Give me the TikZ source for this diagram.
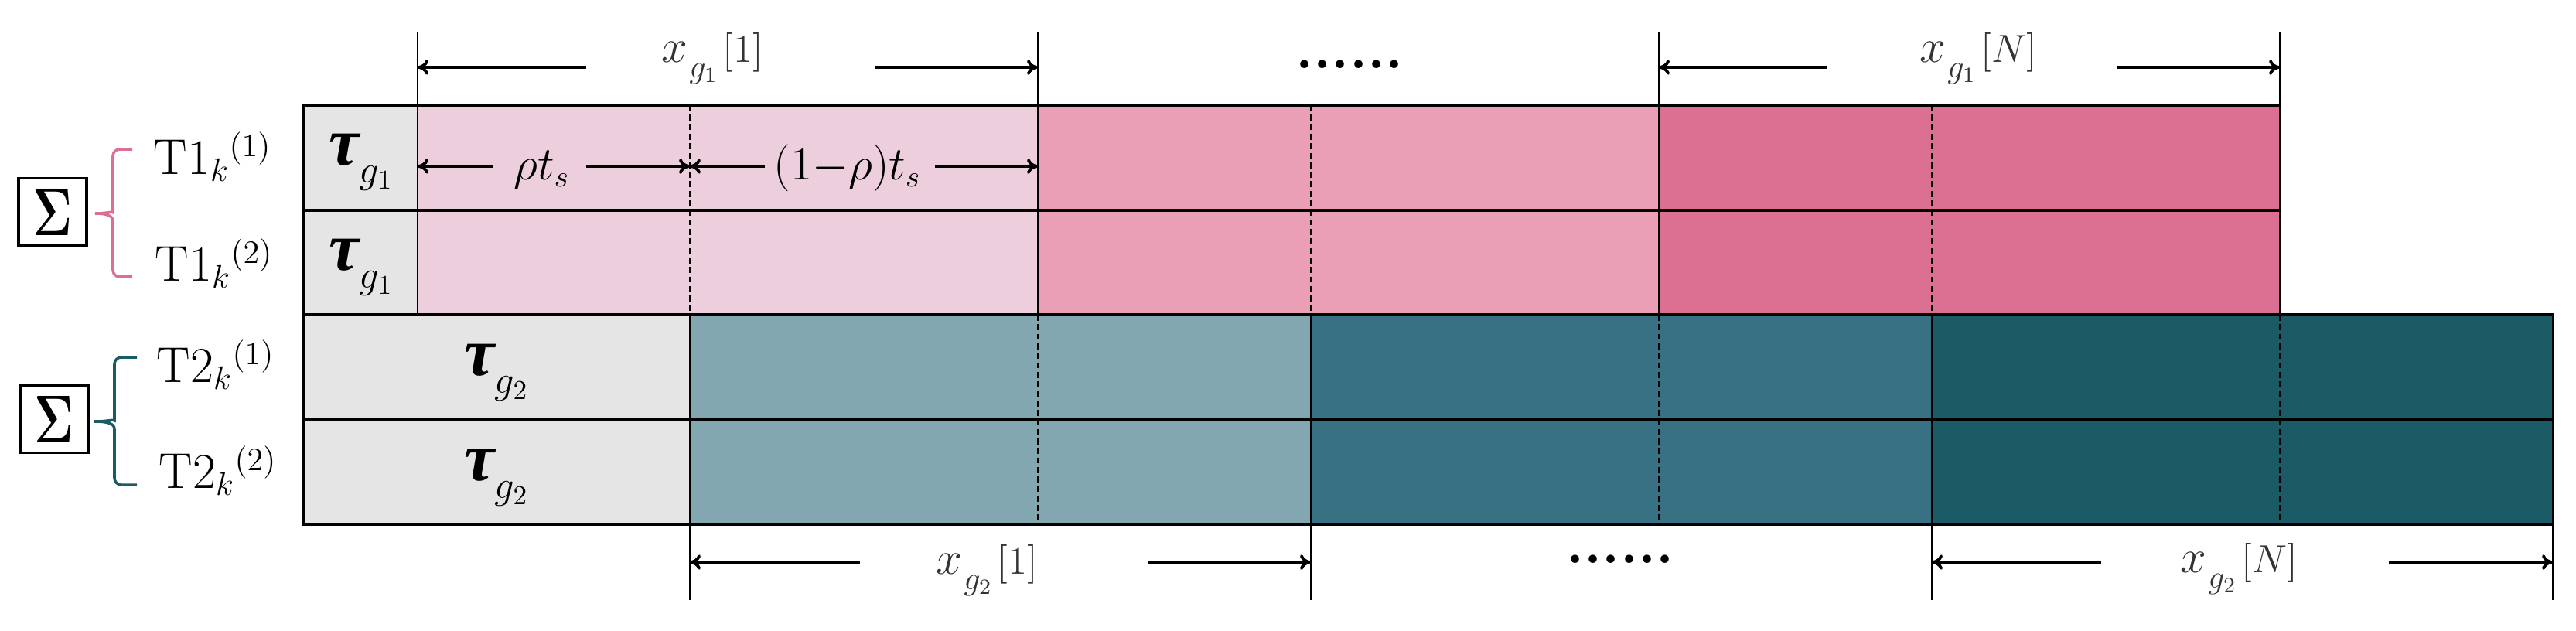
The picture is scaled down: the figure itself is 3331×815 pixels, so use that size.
\documentclass[tikz,border=0pt]{standalone}
\usepackage{amsmath}
\usepackage{fontspec}
\newfontfamily\grk{Liberation Serif}
\usetikzlibrary{arrows.meta}
\definecolor{graycell}{HTML}{E5E5E5}
\definecolor{pinkA}{HTML}{ECCEDC}
\definecolor{pinkB}{HTML}{EA9FB7}
\definecolor{pinkC}{HTML}{DC7092}
\definecolor{tealA}{HTML}{82A7B1}
\definecolor{tealB}{HTML}{387183}
\definecolor{tealC}{HTML}{1B5B66}
\definecolor{labgray}{HTML}{333333}
\newcommand{\fsz}[1]{\fontsize{#1}{#1}\selectfont}
\newcommand{\taulab}[1]{{\fsz{25}\grk\bfseries\itshape τ}\kern0pt\raisebox{-6.8pt}{\fsz{14.5}$g_{#1}$}}
\newcommand{\xlab}[2]{{\fsz{18}$x$}\kern0.5pt\raisebox{-5.7pt}{\fsz{12}$g_{#1}$}\kern2pt{\fsz{15}$[#2]$}}
\newcommand{\tlab}[2]{{\fsz{18.5}$\mathrm{T#1}_{k}{}^{(#2)}$}}
\begin{document}
\begin{tikzpicture}[x=0.01cm,y=-0.01cm,
  border/.style={line width=1pt,line cap=rect},
  sepline/.style={line width=0.8pt},
  cutline/.style={line width=0.45pt,dash pattern=on 2.2pt off 1.3pt},
  tickline/.style={line width=0.6pt},
  dimarrow/.style={line width=1.1pt,-{To[length=4pt,width=5.6pt]}},
  lab/.style={inner sep=0pt,anchor=base west},
  taunode/.style={inner sep=0pt,anchor=base},
  sumbox/.style={draw,line width=1pt,minimum width=0.88cm,minimum height=0.87cm,inner sep=0pt},
  bracepink/.style={draw=pinkC,line width=1pt},
  braceteal/.style={draw=tealC,line width=1pt},
  dotsnode/.style={inner sep=0pt,font=\fsz{21}\bfseries},
]
\useasboundingbox (0,0) rectangle (3331,815);

% ---- fills
\fill[graycell] (393,136) rectangle (540,407);
\fill[pinkA] (540,136) rectangle (1342,407);
\fill[pinkB] (1342,136) rectangle (2145,407);
\fill[pinkC] (2145,136) rectangle (2948,407);
\fill[graycell] (393,407) rectangle (892,678);
\fill[tealA] (892,407) rectangle (1695,678);
\fill[tealB] (1695,407) rectangle (2498,678);
\fill[tealC] (2498,407) rectangle (3301,678);

% ---- dashed split lines
\foreach \x in {892,1695,2498} \draw[cutline] (\x,136) -- (\x,407);
\foreach \x in {1342,2145,2948} \draw[cutline] (\x,407) -- (\x,678);

% ---- vertical separators
\foreach \x in {540,1342,2145,2948} \draw[sepline] (\x,136) -- (\x,407);
\foreach \x in {892,1695,2498,3301} \draw[sepline] (\x,407) -- (\x,678);

% ---- horizontal borders
\draw[border] (393,136) -- (2948,136);
\draw[border] (393,272) -- (2948,272);
\draw[border] (393,407) -- (3301,407);
\draw[border] (393,542) -- (3301,542);
\draw[border] (393,678) -- (3301,678);
\draw[border] (393,136) -- (393,678);

% ---- tau labels
\node[taunode] (tau1) at (467,213) {\taulab{1}};
\node[taunode] (tau2) at (467,349) {\taulab{1}};
\node[taunode] (tau3) at (642,485) {\taulab{2}};
\node[taunode] (tau4) at (642,621) {\taulab{2}};

% ---- row labels
\node[lab] (T11) at (198,225) {\tlab{1}{1}};
\node[lab] (T12) at (200,363) {\tlab{1}{2}};
\node[lab] (T21) at (202,494) {\tlab{2}{1}};
\node[lab] (T22) at (205,631) {\tlab{2}{2}};

% ---- sum boxes and braces
\node[sumbox] (sum1) at (68,274) {\fsz{27}\scalebox{0.72}[1]{$\boldsymbol{\Sigma}$}};
\node[sumbox] (sum2) at (70,542) {\fsz{27}\scalebox{0.72}[1]{$\boldsymbol{\Sigma}$}};
\draw[bracepink] (171,193) [rounded corners=2.5pt] -- (146,193) -- (146,266) [sharp corners]
  .. controls (146,273) and (138,276) .. (123,276)
  .. controls (138,276) and (146,279) .. (146,286) [rounded corners=2.5pt] -- (146,358) -- (171,358);
\draw[braceteal] (177,462) [rounded corners=2.5pt] -- (148,462) -- (148,535) [sharp corners]
  .. controls (148,542) and (140,545) .. (122,545)
  .. controls (140,545) and (148,548) .. (148,555) [rounded corners=2.5pt] -- (148,627) -- (177,627);

% ---- top dimension ticks
\foreach \x/\n in {540/a,1342/b,2145/c,2948/d} {
  \coordinate (tt\n) at (\x,42);
  \coordinate (tb\n) at (\x,136);
  \draw[tickline] (tt\n) -- (tb\n);
}
% ---- bottom dimension ticks
\foreach \x/\n in {892/a,1695/b,2498/c,3301/d} {
  \coordinate (bt\n) at (\x,678);
  \coordinate (bb\n) at (\x,776);
  \draw[tickline] (bt\n) -- (bb\n);
}

% ---- top dimension labels and arrows
\node[lab,text=labgray] (xg11) at (855,80) {\xlab{1}{1}};
\node[lab,text=labgray] (xg1N) at (2482,80) {\xlab{1}{N}};
\node[dotsnode] (dotsT) at (1745,83) {......};
\coordinate (ua1) at (758,87);
\coordinate (ua2) at (1132,87);
\coordinate (ua3) at (2363,87);
\coordinate (ua4) at (2737,87);
\draw[dimarrow] (ua1) -- (ua1 -| tta);
\draw[dimarrow] (ua2) -- (ua2 -| ttb);
\draw[dimarrow] (ua3) -- (ua3 -| ttc);
\draw[dimarrow] (ua4) -- (ua4 -| ttd);

% ---- bottom dimension labels and arrows
\node[lab,text=labgray] (xg21) at (1210,742) {\xlab{2}{1}};
\node[lab,text=labgray] (xg2N) at (2819,740) {\xlab{2}{N}};
\node[dotsnode] (dotsB) at (2095,723) {......};
\coordinate (la1) at (1112,727);
\coordinate (la2) at (1484,727);
\coordinate (la3) at (2717,727);
\coordinate (la4) at (3089,727);
\draw[dimarrow] (la1) -- (la1 -| bba);
\draw[dimarrow] (la2) -- (la2 -| bbb);
\draw[dimarrow] (la3) -- (la3 -| bbc);
\draw[dimarrow] (la4) -- (la4 -| bbd);

% ---- rho t_s arrows
\node[lab] (rho1) at (664,232) {\fsz{16}$\rho t_{s}$};
\node[lab] (rho2) at (1000,232) {\fsz{16}$(1{-}\rho)t_{s}$};
\coordinate (ra1) at (638,215);
\coordinate (ra2) at (758,215);
\coordinate (ra3) at (989,215);
\coordinate (ra4) at (1209,215);
\coordinate (rmid) at (892,215);
\draw[dimarrow] (ra1) -- (ra1 -| tta);
\draw[dimarrow] (ra2) -- (rmid);
\draw[dimarrow] (ra3) -- (rmid);
\draw[dimarrow] (ra4) -- (ra4 -| ttb);
\end{tikzpicture}
\end{document}
